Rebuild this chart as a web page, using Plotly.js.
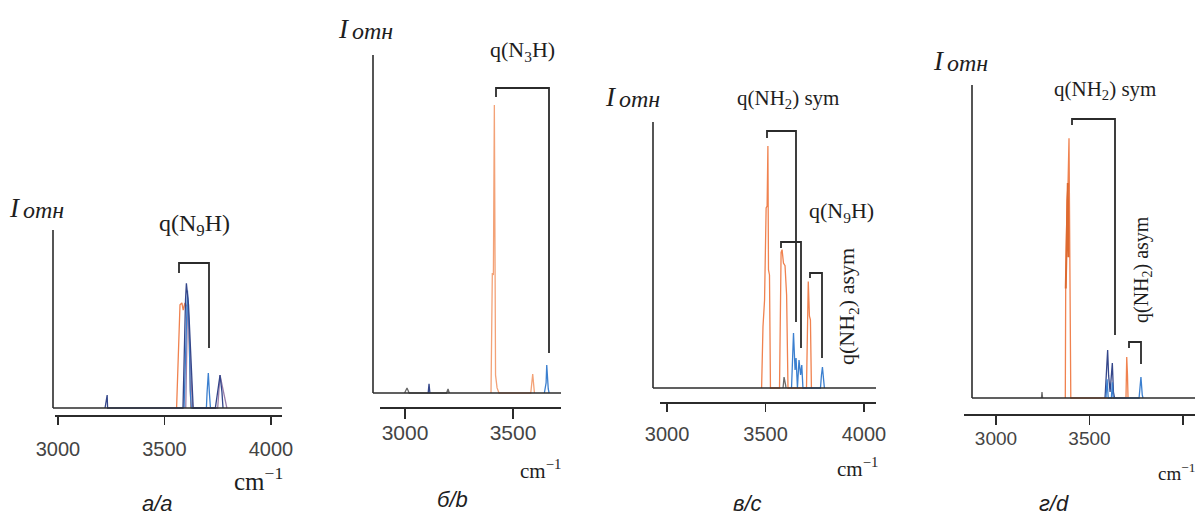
<!DOCTYPE html>
<html>
<head>
<meta charset="utf-8">
<script src="https://cdn.plot.ly/plotly-3.0.1.min.js"></script>
<style>html,body{margin:0;padding:0;background:#fff;}#chart{width:1204px;height:515px;}</style>
</head>
<body>
<div id="chart"></div>
<script>
// ---------- DATA (relative intensity, wavenumber cm^-1) ----------
const tickValues = [3000, 3500, 4000];
const tickLabels = ['3000', '3500', '4000'];

// panel а/a
const aOrangeX = [3557, 3573, 3582, 3588, 3596, 3606, 3615, 3622, 3624];
const aOrangeY = [0, 0.58, 0.59, 0.55, 0.59, 0.57, 0.44, 0.07, 0];
const aBlueX = [3592, 3608, 3616, 3621, 3626, 3697, 3700, 3706, 3711, 3716];
const aBlueY = [0, 0.66, 0.44, 0.10, 0, 0, 0.084, 0.197, 0.084, 0];
const aPurpleX = [3600, 3609, 3622, 3632, 3750, 3761, 3793];
const aPurpleY = [0, 0.62, 0.25, 0, 0, 0.185, 0];
const aNavyX = [3221, 3228, 3231, 3233, 3587, 3599, 3603, 3613, 3620, 3628, 3635, 3739, 3761, 3770, 3775];
const aNavyY = [0, 0.073, 0.073, 0, 0, 0.61, 0.70, 0.58, 0.37, 0.13, 0, 0, 0.185, 0.09, 0];

// panel б/b
const bOrangeX = [3398, 3404, 3409, 3413.4, 3419, 3426, 3435, 3582, 3591, 3599];
const bOrangeY = [0, 0.355, 0.349, 0.852, 0.053, 0.015, 0, 0, 0.056, 0];
const bBlueX = [3645, 3649, 3653, 3656, 3659, 3663, 3667];
const bBlueY = [0, 0.012, 0.03, 0.083, 0.03, 0.012, 0];
const bNavyX = [3107, 3111, 3115];
const bNavyY = [0, 0.027, 0];
const bGrayX = [2998, 3009, 3019, 3192, 3199, 3205];
const bGrayY = [0, 0.015, 0, 0, 0.012, 0];

// panel в/c
const cOrangeX = [3480, 3487, 3495, 3503, 3508, 3512, 3515, 3520, 3525,
                  3571, 3579, 3584, 3591, 3599, 3607, 3614,
                  3708, 3713, 3717, 3723, 3728, 3733];
const cOrangeY = [0, 0.23, 0.33, 0.677, 0.684, 0.91, 0.444, 0.425, 0,
                  0, 0.51, 0.52, 0.47, 0.46, 0.35, 0,
                  0, 0.33, 0.40, 0.27, 0.256, 0];
const cBlueX = [3632, 3642, 3650, 3655, 3662, 3670, 3678, 3684, 3690, 3779, 3784, 3789, 3794, 3799];
const cBlueY = [0, 0.207, 0.068, 0.113, 0, 0.105, 0.049, 0.086, 0, 0, 0.049, 0.079, 0.038, 0];
const cGrayX = [3589, 3594, 3602, 3604];
const cGrayY = [0, 0.041, 0.011, 0];

// panel г/d
const dOrangeX = [3370.6, 3372.7, 3379.7, 3385, 3390.4, 3394, 3395.7, 3400, 3695, 3699, 3703, 3706];
const dOrangeY = [0, 0.35, 0.63, 0.68, 0.83, 0.505, 0.35, 0, 0, 0.131, 0.073, 0];
const dOrangeDarkX = [3373, 3380, 3384, 3388];
const dOrangeDarkY = [0.35, 0.687, 0.687, 0.45];
const dNavyX = [3583, 3597, 3602, 3610, 3615, 3622, 3628, 3634];
const dNavyY = [0, 0.153, 0.073, 0.019, 0.058, 0.112, 0.019, 0];
const dBlueX = [3588, 3594, 3600, 3617, 3622, 3627, 3765, 3775, 3782, 3786];
const dBlueY = [0, 0.06, 0, 0, 0.05, 0, 0, 0.067, 0.01, 0];
const dGrayX = [3243, 3246, 3249];
const dGrayY = [0, 0.019, 0];

// ---------- STYLE / LAYOUT ----------
const W = 1204, H = 515;
const PX = x => x / W;
const PY = y => 1 - y / H;

const C_OR = '#f0824f', C_OR_L = '#f3a277', C_OR_D = '#dd6a30', C_BL = '#3b7fcf',
      C_NV = '#34468a', C_PU = '#9b80ab', C_GR = '#6a6a6a', INK = '#2b2b2b';

function tr(x, y, ax, color, w) {
  return {x: x, y: y, xaxis: 'x' + ax, yaxis: 'y' + ax, type: 'scatter', mode: 'lines',
          line: {color: color, width: w || 1.3}, hoverinfo: 'skip'};
}
const data = [
  tr(aOrangeX, aOrangeY, '', C_OR), tr(aPurpleX, aPurpleY, '', C_PU), tr(aBlueX, aBlueY, '', C_BL), tr(aNavyX, aNavyY, '', C_NV),
  tr(bGrayX, bGrayY, '2', C_GR), tr(bNavyX, bNavyY, '2', C_NV), tr(bOrangeX, bOrangeY, '2', C_OR_L), tr(bBlueX, bBlueY, '2', C_BL),
  tr(cGrayX, cGrayY, '3', C_GR), tr(cOrangeX, cOrangeY, '3', C_OR), tr(cBlueX, cBlueY, '3', C_BL),
  tr(dGrayX, dGrayY, '4', C_GR), tr(dOrangeX, dOrangeY, '4', C_OR), tr(dOrangeDarkX, dOrangeDarkY, '4', C_OR_D, 2),
  tr(dNavyX, dNavyY, '4', C_NV), tr(dBlueX, dBlueY, '4', C_BL)
];

// panel geometry in pixels
const panels = [
  {ya: 53,  top: 230, base: 408, xl: 415, left: 55,  right: 282,  range: [2986, 4052], fs: 20, so: 7, tl: 8},
  {ya: 373, top: 55,  base: 393, xl: 407, left: 380, right: 561,  range: [2884, 3722], fs: 21, so: -4, tl: 10},
  {ya: 653, top: 122, base: 388, xl: 402, left: 660, right: 876,  range: [2964, 4061], fs: 20, so: 5, tl: 8},
  {ya: 972, top: 85,  base: 398, xl: 414, left: 964, right: 1195, range: [2829, 4064], fs: 19, so: -2, tl: 9}
];

const layout = {
  width: W, height: H, margin: {l: 0, r: 0, t: 0, b: 0}, showlegend: false,
  paper_bgcolor: '#fff', plot_bgcolor: 'rgba(0,0,0,0)', shapes: [], annotations: []
};
panels.forEach((p, i) => {
  const s = i === 0 ? '' : String(i + 1);
  const hgt = p.base - p.top;
  layout['xaxis' + s] = {
    domain: [PX(p.left), PX(p.right)], range: p.range, anchor: 'free', position: PY(p.xl),
    showline: true, linecolor: INK, linewidth: 1.6, ticks: 'outside', ticklen: p.tl, tickwidth: 1.5, tickcolor: INK,
    tickvals: tickValues, ticktext: tickLabels, showgrid: false, zeroline: false, fixedrange: true,
    tickfont: {family: 'Liberation Sans, Arial, sans-serif', size: p.fs, color: '#444'},
    ticklabelstandoff: p.so, automargin: false
  };
  layout['yaxis' + s] = {
    domain: [PY(p.xl), PY(p.top)], range: [-(p.xl - p.base) / hgt, 1], visible: false,
    anchor: 'free', position: PX(p.left), fixedrange: true
  };
  layout.shapes.push({type: 'line', xref: 'paper', yref: 'paper', x0: PX(p.ya), x1: PX(p.ya), y0: PY(p.top), y1: PY(p.base), line: {color: INK, width: 1.6}});
  layout.shapes.push({type: 'line', xref: 'paper', yref: 'paper', x0: PX(p.ya), x1: PX(p.right), y0: PY(p.base), y1: PY(p.base), line: {color: INK, width: 1.6}});
});

// brackets: left x, left drop y, top y, right x, right drop y (pixels)
const brackets = [
  [179, 273, 263, 209, 348],
  [496, 97, 88, 549, 353],
  [767, 138, 131, 796, 322],
  [781, 248, 242, 801, 348],
  [810, 278, 273, 822, 358],
  [1072, 125, 119, 1115, 335],
  [1129, 348, 342, 1141, 364]
];
brackets.forEach(b => {
  layout.shapes.push({type: 'path', xref: 'paper', yref: 'paper',
    path: `M ${PX(b[0])} ${PY(b[1])} L ${PX(b[0])} ${PY(b[2])} L ${PX(b[3])} ${PY(b[2])} L ${PX(b[3])} ${PY(b[4])}`,
    line: {color: INK, width: 1.8}});
});

function ann(text, x, y, size, opt) {
  opt = opt || {};
  layout.annotations.push(Object.assign({
    text: text, x: PX(x), y: PY(y), xref: 'paper', yref: 'paper', showarrow: false,
    xanchor: 'center', yanchor: 'middle',
    font: {family: 'Liberation Serif, Times New Roman, serif', size: size, color: '#1e1e1e'}
  }, opt));
}
const SANS = 'Liberation Sans, Arial, sans-serif';

// I отн labels
[[7, 208], [336, 29], [603, 97], [931, 61]].forEach(q => {
  ann('<i>I</i>', q[0], q[1], 27, {xanchor: 'left'});
  ann('<i>отн</i>', q[0] + 14, q[1] + 2, 24, {xanchor: 'left'});
});

// band labels
ann('q(N<sub>9</sub>H)', 194, 225, 24);
ann('q(N<sub>3</sub>H)', 522, 51, 22);
ann('q(NH<sub>2</sub>) sym', 788, 99, 21);
ann('q(N<sub>9</sub>H)', 841, 212, 22);
ann('q(NH<sub>2</sub>) asym', 848, 306, 22, {textangle: -90});
ann('q(NH<sub>2</sub>) sym', 1105, 90, 21);
ann('q(NH<sub>2</sub>) asym', 1142, 270, 20, {textangle: -90});

// units
ann('cm<sup>−1</sup>', 258, 479, 25);
ann('cm<sup>−1</sup>', 540, 469, 21);
ann('cm<sup>−1</sup>', 857, 467, 21);
ann('cm<sup>−1</sup>', 1176, 472, 19);

// sub-figure captions
const subLabels = ['а/a', 'б/b', 'в/c', 'г/d'];
const subPos = [[157, 503], [452, 499], [747, 503], [1054, 503]];
subLabels.forEach((t, i) => ann('<i>' + t + '</i>', subPos[i][0], subPos[i][1], 22, {font: {family: SANS, size: 22, color: '#1e1e1e'}}));

Plotly.newPlot('chart', data, layout, {staticPlot: true, displayModeBar: false});
</script>
</body>
</html>
